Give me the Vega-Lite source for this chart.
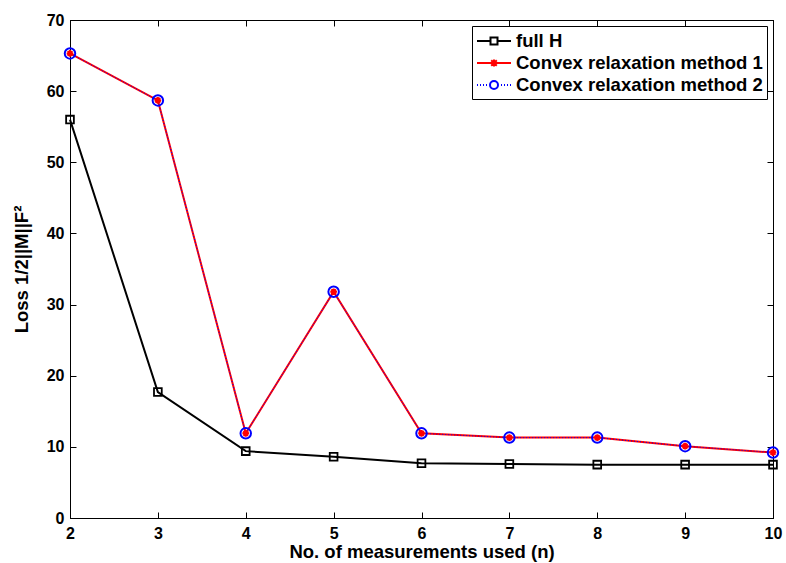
{
  "$schema": "https://vega.github.io/schema/vega-lite/v6.json",
  "width": 703,
  "height": 498,
  "autosize": {"type": "none"},
  "padding": {"left": 70, "top": 20, "right": 13, "bottom": 45},
  "background": "white",
  "config": {
    "font": "Liberation Sans",
    "view": {"stroke": "black", "strokeWidth": 1},
    "axis": {
      "labelFont": "Liberation Sans",
      "labelFontWeight": "bold",
      "labelFontSize": 16,
      "labelColor": "black",
      "titleFont": "Liberation Sans",
      "titleFontWeight": "bold",
      "titleFontSize": 18.5,
      "titleColor": "black",
      "domainColor": "black",
      "tickColor": "black",
      "grid": false
    }
  },
  "data": {
    "values": [
      {"n": 2, "loss": 56.0, "series": "full H"},
      {"n": 3, "loss": 17.7, "series": "full H"},
      {"n": 4, "loss": 9.4, "series": "full H"},
      {"n": 5, "loss": 8.6, "series": "full H"},
      {"n": 6, "loss": 7.7, "series": "full H"},
      {"n": 7, "loss": 7.6, "series": "full H"},
      {"n": 8, "loss": 7.5, "series": "full H"},
      {"n": 9, "loss": 7.5, "series": "full H"},
      {"n": 10, "loss": 7.5, "series": "full H"},
      {"n": 2, "loss": 65.3, "series": "Convex relaxation method 1"},
      {"n": 3, "loss": 58.7, "series": "Convex relaxation method 1"},
      {"n": 4, "loss": 11.9, "series": "Convex relaxation method 1"},
      {"n": 5, "loss": 31.8, "series": "Convex relaxation method 1"},
      {"n": 6, "loss": 11.9, "series": "Convex relaxation method 1"},
      {"n": 7, "loss": 11.3, "series": "Convex relaxation method 1"},
      {"n": 8, "loss": 11.3, "series": "Convex relaxation method 1"},
      {"n": 9, "loss": 10.1, "series": "Convex relaxation method 1"},
      {"n": 10, "loss": 9.2, "series": "Convex relaxation method 1"},
      {"n": 2, "loss": 65.3, "series": "Convex relaxation method 2"},
      {"n": 3, "loss": 58.7, "series": "Convex relaxation method 2"},
      {"n": 4, "loss": 11.9, "series": "Convex relaxation method 2"},
      {"n": 5, "loss": 31.8, "series": "Convex relaxation method 2"},
      {"n": 6, "loss": 11.9, "series": "Convex relaxation method 2"},
      {"n": 7, "loss": 11.3, "series": "Convex relaxation method 2"},
      {"n": 8, "loss": 11.3, "series": "Convex relaxation method 2"},
      {"n": 9, "loss": 10.1, "series": "Convex relaxation method 2"},
      {"n": 10, "loss": 9.2, "series": "Convex relaxation method 2"}
    ]
  },
  "resolve": {"axis": {"x": "independent", "y": "independent"}},
  "layer": [
    {
      "transform": [{"filter": "datum.series !== 'Convex relaxation method 2'"}],
      "mark": {"type": "line", "clip": false, "strokeWidth": 2},
      "encoding": {
        "x": {
          "field": "n", "type": "quantitative",
          "scale": {"domain": [2, 10], "nice": false},
          "axis": {"values": [2,3,4,5,6,7,8,9,10], "tickSize": -6, "labelPadding": 13, "title": "No. of measurements used (n)", "titlePadding": 1, "labelFlush": false}
        },
        "y": {
          "field": "loss", "type": "quantitative",
          "scale": {"domain": [0, 70], "nice": false},
          "axis": {"values": [0,10,20,30,40,50,60,70], "tickSize": -6, "labelPadding": 12, "title": "Loss 1/2||M||F²", "titlePadding": 15, "labelFlush": false}
        },
        "color": {
          "field": "series", "type": "nominal",
          "scale": {"domain": ["full H", "Convex relaxation method 1", "Convex relaxation method 2"], "range": ["black", "red", "blue"]},
          "legend": {
            "title": null,
            "orient": "top-right",
            "offset": 6,
            "fillColor": "white",
            "strokeColor": "black",
            "padding": 4,
            "labelFont": "Liberation Sans",
            "labelFontWeight": "bold",
            "labelFontSize": 18.5,
            "labelColor": "black",
            "labelLimit": 400,
            "symbolSize": 400,
            "symbolStrokeWidth": 2,
            "symbolFillColor": "transparent",
            "rowPadding": 1,
            "labelOffset": 18,
            "encode": {
              "symbols": {
                "update": {
                  "shape": {"signal": "datum.value === 'full H' ? 'M-1,0H0.35M1.05,0H2.4M0.35,-0.35H1.05V0.35H0.35Z' : datum.value === 'Convex relaxation method 1' ? 'M-1,0H2.4M0.42,-0.28L0.98,0.28M0.42,0.28L0.98,-0.28M0.7,-0.35V0.35' : 'M-1,0H-0.9M-0.7,0H-0.6M-0.4,0H-0.3M-0.1,0H0M1.4,0H1.5M1.7,0H1.8M2,0H2.1M2.3,0H2.4M0.3,0A0.4,0.4 0 1,0 1.1,0A0.4,0.4 0 1,0 0.3,0'"},
                  "fill": {"value": "transparent"},
                  "strokeWidth": {"value": 2}
                }
              }
            }
          }
        }
      }
    },
    {
      "transform": [{"filter": "datum.series === 'Convex relaxation method 2'"}],
      "mark": {"type": "line", "clip": false, "strokeWidth": 1, "strokeDash": [1, 2]},
      "encoding": {
        "x": {"field": "n", "type": "quantitative", "axis": null},
        "y": {"field": "loss", "type": "quantitative", "axis": null},
        "color": {"field": "series", "type": "nominal"}
      }
    },
    {
      "transform": [{"filter": "datum.series === 'full H'"}],
      "mark": {"type": "point", "shape": "square", "filled": false, "color": "black", "strokeWidth": 1.8, "size": 60, "opacity": 1, "clip": false},
      "encoding": {
        "x": {
          "field": "n", "type": "quantitative",
          "axis": {"orient": "top", "values": [2,3,4,5,6,7,8,9,10], "tickSize": -6, "labels": false, "title": null}
        },
        "y": {
          "field": "loss", "type": "quantitative",
          "axis": {"orient": "right", "values": [0,10,20,30,40,50,60,70], "tickSize": -6, "labels": false, "title": null}
        }
      }
    },
    {
      "transform": [{"filter": "datum.series === 'Convex relaxation method 1'"}],
      "mark": {"type": "point", "shape": "M-1,0H1M-0.7,-0.7L0.7,0.7M-0.7,0.7L0.7,-0.7M0,-1V1", "filled": false, "color": "red", "strokeWidth": 2, "size": 45, "opacity": 1, "clip": false},
      "encoding": {
        "x": {"field": "n", "type": "quantitative", "axis": null},
        "y": {"field": "loss", "type": "quantitative", "axis": null}
      }
    },
    {
      "transform": [{"filter": "datum.series === 'Convex relaxation method 2'"}],
      "mark": {"type": "point", "shape": "circle", "filled": false, "color": "blue", "strokeWidth": 2, "size": 110, "opacity": 1, "clip": false},
      "encoding": {
        "x": {"field": "n", "type": "quantitative", "axis": null},
        "y": {"field": "loss", "type": "quantitative", "axis": null}
      }
    }
  ]
}
